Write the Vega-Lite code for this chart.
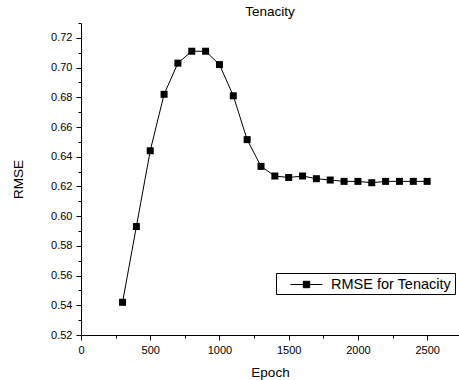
{
  "$schema": "https://vega.github.io/schema/vega-lite/v6.json",
  "autosize": "none",
  "width": 378,
  "height": 312,
  "padding": {"left": 81, "top": 23, "right": 0, "bottom": 45},
  "background": "white",
  "config": {
    "font": "Liberation Sans",
    "view": {"stroke": null},
    "axis": {"grid": false, "domainColor": "black", "tickColor": "black", "labelColor": "black", "titleColor": "black", "labelFont": "Liberation Sans", "titleFont": "Liberation Sans", "titleFontWeight": "normal", "labelFontSize": 11, "titleFontSize": 13.5}
  },
  "title": {"text": "Tenacity", "fontSize": 13.5, "fontWeight": "normal", "font": "Liberation Sans", "color": "black", "offset": 4},
  "data": {"values": [
    {"epoch": 300, "rmse": 0.542, "series": "RMSE for Tenacity"},
    {"epoch": 400, "rmse": 0.593, "series": "RMSE for Tenacity"},
    {"epoch": 500, "rmse": 0.644, "series": "RMSE for Tenacity"},
    {"epoch": 600, "rmse": 0.682, "series": "RMSE for Tenacity"},
    {"epoch": 700, "rmse": 0.703, "series": "RMSE for Tenacity"},
    {"epoch": 800, "rmse": 0.711, "series": "RMSE for Tenacity"},
    {"epoch": 900, "rmse": 0.711, "series": "RMSE for Tenacity"},
    {"epoch": 1000, "rmse": 0.702, "series": "RMSE for Tenacity"},
    {"epoch": 1100, "rmse": 0.681, "series": "RMSE for Tenacity"},
    {"epoch": 1200, "rmse": 0.6515, "series": "RMSE for Tenacity"},
    {"epoch": 1300, "rmse": 0.6335, "series": "RMSE for Tenacity"},
    {"epoch": 1400, "rmse": 0.627, "series": "RMSE for Tenacity"},
    {"epoch": 1500, "rmse": 0.626, "series": "RMSE for Tenacity"},
    {"epoch": 1600, "rmse": 0.627, "series": "RMSE for Tenacity"},
    {"epoch": 1700, "rmse": 0.6252, "series": "RMSE for Tenacity"},
    {"epoch": 1800, "rmse": 0.6243, "series": "RMSE for Tenacity"},
    {"epoch": 1900, "rmse": 0.6234, "series": "RMSE for Tenacity"},
    {"epoch": 2000, "rmse": 0.6234, "series": "RMSE for Tenacity"},
    {"epoch": 2100, "rmse": 0.6225, "series": "RMSE for Tenacity"},
    {"epoch": 2200, "rmse": 0.6234, "series": "RMSE for Tenacity"},
    {"epoch": 2300, "rmse": 0.6234, "series": "RMSE for Tenacity"},
    {"epoch": 2400, "rmse": 0.6234, "series": "RMSE for Tenacity"},
    {"epoch": 2500, "rmse": 0.6234, "series": "RMSE for Tenacity"}
  ]},
  "encoding": {
    "x": {"field": "epoch", "type": "quantitative", "title": "Epoch",
      "scale": {"domain": [0, 2730], "nice": false, "zero": false},
      "axis": {"values": [0, 250, 500, 750, 1000, 1250, 1500, 1750, 2000, 2250, 2500],
        "labelExpr": "datum.value % 500 === 0 ? format(datum.value, 'd') : ''",
        "tickSize": {"condition": {"test": "datum.value % 500 === 0", "value": 5}, "value": 3},
        "labelPadding": 4, "titlePadding": 10, "labelFlush": false}},
    "y": {"field": "rmse", "type": "quantitative", "title": "RMSE",
      "scale": {"domain": [0.52, 0.73], "nice": false, "zero": false},
      "axis": {"values": [0.52, 0.53, 0.54, 0.55, 0.56, 0.57, 0.58, 0.59, 0.6, 0.61, 0.62, 0.63, 0.64, 0.65, 0.66, 0.67, 0.68, 0.69, 0.7, 0.71, 0.72, 0.73],
        "labelExpr": "abs(datum.value*50 - round(datum.value*50)) < 0.001 ? format(datum.value, '.2f') : ''",
        "tickSize": {"condition": {"test": "abs(datum.value*50 - round(datum.value*50)) < 0.001", "value": 5}, "value": 3},
        "labelPadding": 4, "titlePadding": 25, "labelFlush": false}}
  },
  "layer": [
    {"mark": {"type": "line", "color": "black", "strokeWidth": 1}, "encoding": {}},
    {"mark": {"type": "point", "shape": "square", "filled": true, "size": 49, "opacity": 1},
      "encoding": {
        "color": {"field": "series", "type": "nominal", "scale": {"range": ["black"]},
          "legend": {"title": null, "orient": "none", "legendX": 195, "legendY": 250,
            "strokeColor": "black", "fillColor": "white", "padding": 3,
            "symbolType": "M-2,0H2M-0.4,-0.4H0.4V0.4H-0.4Z", "symbolSize": 256,
            "symbolStrokeColor": "black", "symbolFillColor": "black", "symbolStrokeWidth": 1,
            "symbolOffset": 19, "labelOffset": 16, "labelFontSize": 14.5, "labelColor": "black", "labelFont": "Liberation Sans"}}
      }}
  ]
}
